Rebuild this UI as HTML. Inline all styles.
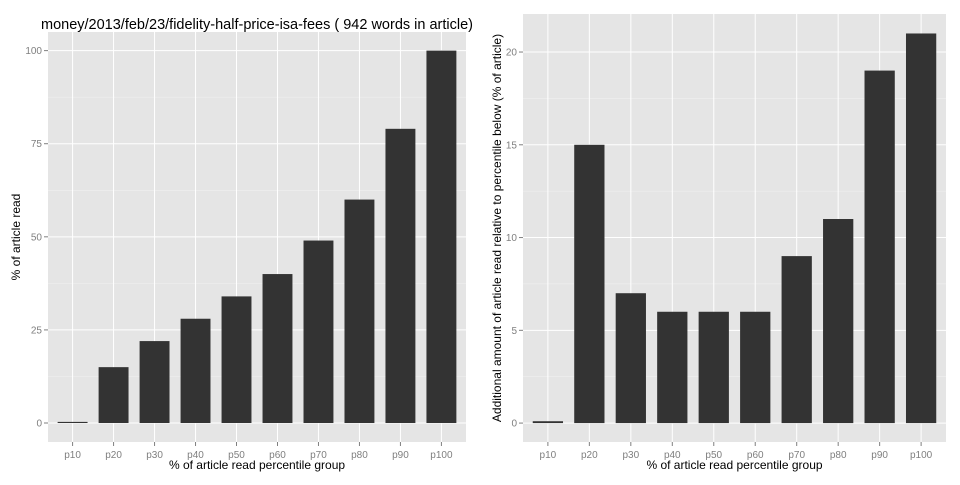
<!DOCTYPE html>
<html><head><meta charset="utf-8"><style>
body{margin:0;background:#fff;font-family:"Liberation Sans",sans-serif}
svg text{font-family:"Liberation Sans",sans-serif}
</style></head><body>
<svg id="c" width="960" height="480" xmlns="http://www.w3.org/2000/svg"></svg>
<script>
const categories=["p10","p20","p30","p40","p50","p60","p70","p80","p90","p100"];
const pctRead=[0.3,15,22,28,34,40,49,60,79,100];
const addRead=[0.1,15,7,6,6,6,9,11,19,21];
const leftTicks=[0,25,50,75,100];
const rightTicks=[0,5,10,15,20];
const NS="http://www.w3.org/2000/svg";
const svg=document.getElementById('c');
function el(t,a,p){const e=document.createElementNS(NS,t);for(const k in a)e.setAttribute(k,a[k]);(p||svg).appendChild(e);return e;}
function panel(cfg){
  const g=el('g',{});
  
  
  const {x0,x1,y0,y1,min,max}=cfg;
  const ys=v=>y1-(v-min)/(max-min)*(y1-y0);
  const step=(x1-x0)/10.2;
  const xs=i=>x0+(i+0.6)*step;
  const bg=el('rect',{x:x0,y:y0,width:x1-x0,height:y1-y0,fill:'#e5e5e5'},g);
  
  for(let i=0;i<cfg.ticks.length;i++){const m=cfg.ticks[i]+(cfg.ticks[1]-cfg.ticks[0])/2;
    if(ys(m)>y0) el('line',{x1:x0,x2:x1,y1:ys(m),y2:ys(m),stroke:'#f2f2f2','stroke-width':0.5},g);}
  cfg.ticks.forEach(t=>{
    el('line',{x1:x0,x2:x1,y1:ys(t),y2:ys(t),stroke:'#fff','stroke-width':1},g);
    el('line',{x1:x0-4,x2:x0,y1:ys(t),y2:ys(t),stroke:'#7f7f7f','stroke-width':1},g);
    const tx=el('text',{x:x0-6,y:ys(t)+3.5,'text-anchor':'end','font-size':10,fill:'#7f7f7f'},g);tx.textContent=t;
    
  });
  categories.forEach((c,i)=>{
    el('line',{x1:xs(i),x2:xs(i),y1:y0,y2:y1,stroke:'#fff','stroke-width':1},g);
    el('line',{x1:xs(i),x2:xs(i),y1:y1,y2:y1+4,stroke:'#7f7f7f','stroke-width':1},g);
    const tx=el('text',{x:xs(i),y:y1+16,'text-anchor':'middle','font-size':10,fill:'#7f7f7f'},g);tx.textContent=c;
    
  });
  const bw=step*0.73;
  cfg.values.forEach((v,i)=>{
    const top=Math.min(ys(v),ys(0)-1);
    const r=el('rect',{x:xs(i)-bw/2,y:top,width:bw,height:ys(0)-top,fill:'#333'},g);
    
  });
  const xt=el('text',{x:(x0+x1)/2,y:y1+27,'text-anchor':'middle','font-size':12,fill:'#000'},g);
  xt.textContent='% of article read percentile group';
  
  const yt=el('text',{x:0,y:0,'text-anchor':'middle','font-size':12,fill:'#000',transform:`translate(${cfg.ytx},${(y0+y1)/2}) rotate(-90)`},g);
  yt.textContent=cfg.ytitle;
  
}
panel({name:'left-panel',x0:48,x1:466,y0:32,y1:442,min:-5.1,max:105,values:pctRead,ticks:leftTicks,ytitle:'% of article read',ytx:20});
panel({name:'right-panel',x0:523,x1:946,y0:14,y1:442,min:-1.02,max:22.05,values:addRead,ticks:rightTicks,ytitle:'Additional amount of article read relative to percentile below (% of article)',ytx:501});
const t=el('text',{x:257,y:29,'text-anchor':'middle','font-size':14.5,fill:'#000'});
t.textContent='money/2013/feb/23/fidelity-half-price-isa-fees ( 942 words in article)';

</script>
</body></html>
